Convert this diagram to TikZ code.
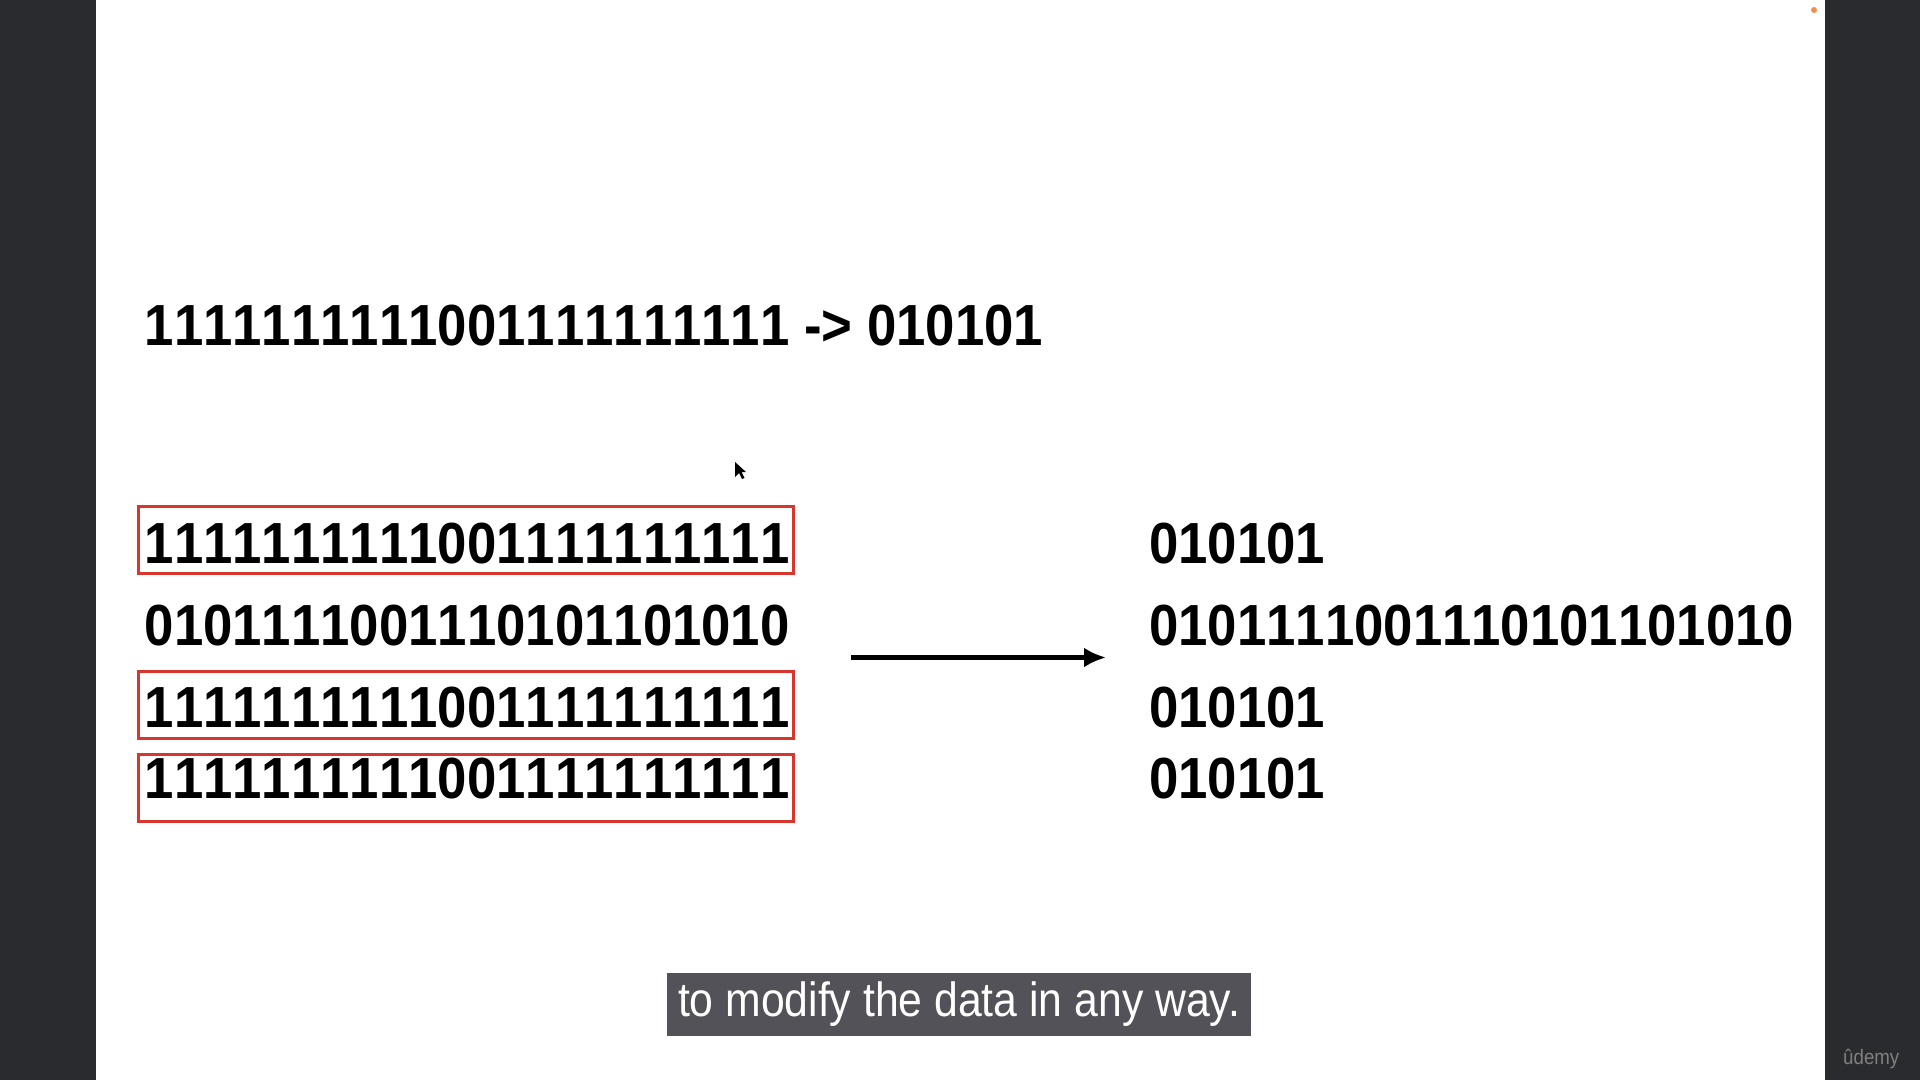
\documentclass[tikz,border=0pt]{standalone}
\usepackage{fontspec}
\usetikzlibrary{arrows.meta}
\newfontfamily\bitfont[FakeStretch=0.909,Kerning=Off]{Liberation Sans}
\newfontfamily\capfont[FakeStretch=0.89]{Liberation Sans}
\definecolor{slatebg}{HTML}{2A2B2E}
\definecolor{boxred}{HTML}{D8352F}
\definecolor{capgray}{HTML}{535258}
\definecolor{dotorange}{HTML}{F0904A}

\begin{document}
\begin{tikzpicture}[x=1pt,y=-1pt]
		\tikzstyle {bits} = [anchor=base west, inner sep=0pt, font=\bitfont\bfseries\fontsize{58}{64}\selectfont]
		\tikzstyle {red box} = [draw=boxred, line width=3pt]

		\useasboundingbox (0,0) rectangle (1920,1080);
		\fill[slatebg] (0,0) rectangle (1920,1080);
		\fill[white] (95.5,0) rectangle (1824.5,1080);
		\fill[dotorange] (1814,10) circle (3);

		% the long rule on top
		\node[bits] (rule) at (144.5,345) {1111111111001111111111 -> 010101};

		% the four input rows
		\node[bits] (inA) at (144.5,563) {1111111111001111111111};
		\node[bits] (inB) at (144.5,645) {0101111001110101101010};
		\node[bits] (inC) at (144.5,727) {1111111111001111111111};
		\node[bits] (inD) at (144.5,798) {1111111111001111111111};

		\draw[red box] (138.5,506) rectangle (793.5,573);
		\draw[red box] (138.5,671) rectangle (793.5,738.5);
		\draw[red box] (138.5,754.5) rectangle (793.5,821.5);

		% the four output rows
		\node[bits] (outA) at (1149,563) {010101};
		\node[bits] (outB) at (1149,645) {0101111001110101101010};
		\node[bits] (outC) at (1149,727) {010101};
		\node[bits] (outD) at (1149,798) {010101};

		\coordinate (from) at (851,657.5);
		\coordinate (to) at (1106,657.5);
		\draw[line width=4.5pt, -{Latex[length=22pt,width=20pt]}] (from) -- (to);

		% mouse pointer
		\fill[black] (735,462) -- (735,477) -- (739,473) -- (742,479) -- (744.5,478) -- (741.5,472) -- (746,472) -- cycle;

		\node[fill=capgray, text=white, inner sep=0pt, minimum width=584, minimum height=62.5,
		      font=\capfont\fontsize{48}{54}\selectfont] (caption) at (959,1004.5) {to modify the data in any way.};

		\node[anchor=base west, inner sep=0pt, text=gray, font=\capfont\fontsize{21}{24}\selectfont] (brand) at (1843,1064) {ûdemy};
	\end{tikzpicture}
\end{document}
